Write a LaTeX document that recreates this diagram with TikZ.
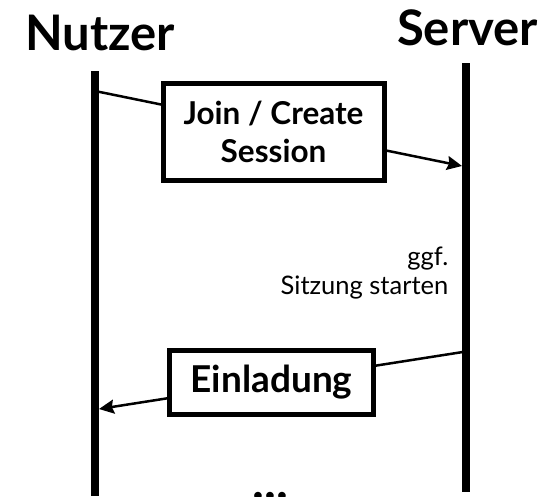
\documentclass[tikz,border=0pt]{standalone}
\usepackage{fontspec}
\setmainfont{Lato}
\usetikzlibrary{arrows.meta}
\tikzset{
  lifeline/.style={line width=7.5pt},
  msg/.style={line width=2.5pt,-{Stealth[length=15pt,width=14pt,inset=2pt]}},
  msgbox/.style={draw,line width=5pt,fill=white,inner sep=0pt,align=center,font=\bfseries},
  actor/.style={inner sep=0pt,font=\fontsize{49}{55}\selectfont\bfseries},
}
\begin{document}
\begin{tikzpicture}[x=1pt,y=-1pt]
\useasboundingbox (0,0) rectangle (551,496);

% actors
\node[actor,anchor=base west] (nutzer) at (25,50) {Nutzer};
\node[actor,anchor=base east] (server) at (538,45) {Server};

% lifelines
\coordinate (ntop) at (95,71);
\coordinate (nbot) at (95,496);
\coordinate (stop) at (466,63);
\coordinate (sbot) at (466,492);

% message end points
\coordinate (m1a) at (95,91);
\coordinate (m1b) at (462,166);
\coordinate (m2a) at (466,351.5);
\coordinate (m2b) at (99,409);

\draw[msg] (m1a) -- (m1b);
\draw[msg] (m2a) -- (m2b);

\draw[lifeline] (ntop) -- (nbot);
\draw[lifeline] (stop) -- (sbot);

% messages
\node[msgbox,minimum width=221pt,minimum height=97pt,font=\fontsize{31.5}{38}\selectfont\bfseries]
  (join) at (273.5,132) {Join / Create\\Session};
\node[msgbox,minimum width=204pt,minimum height=64pt,font=\fontsize{37}{42}\selectfont\bfseries]
  (invite) at (271.5,382.5) {Einladung};

% server note
\node[inner sep=0pt,align=right,anchor=north east,font=\fontsize{25.5}{28.3}\selectfont]
  (note) at (448.5,247) {ggf.\\Sitzung starten};

% continuation
\node[inner sep=0pt,anchor=base,font=\fontsize{50}{55}\selectfont\bfseries] (dots) at (270.5,499) {...};
\end{tikzpicture}
\end{document}
